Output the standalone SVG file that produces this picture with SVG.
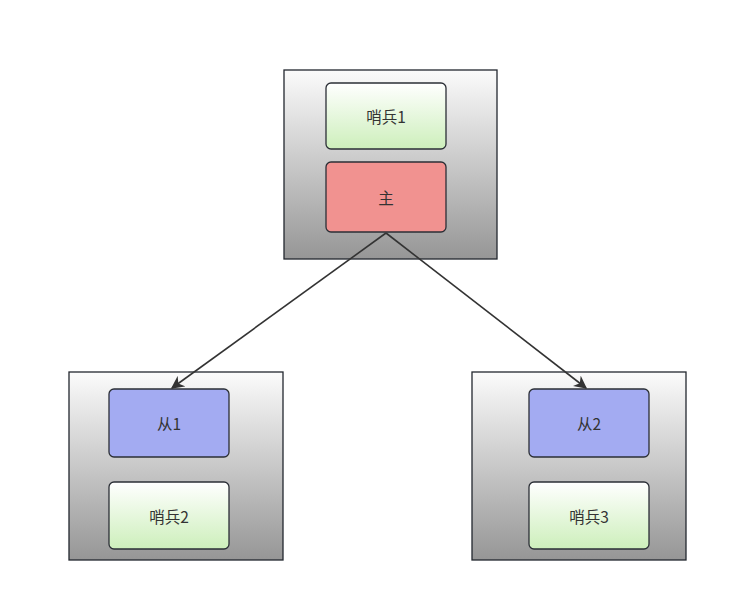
<svg xmlns="http://www.w3.org/2000/svg" width="743" height="609" viewBox="0 0 743 609">
<style>
.box{stroke:#23272e;stroke-width:1.3;fill:url(#gGray)}
.in{stroke:#2b2f36;stroke-width:1.3}
.green{fill:url(#gGreen)}
.red{fill:#f19290}
.blue{fill:#a3abf2}
text{font-family:"Noto Sans CJK SC","Noto Sans",sans-serif;font-size:15.5px;fill:#333;text-anchor:middle;dominant-baseline:central}
.edge{stroke:#333;stroke-width:1.6;fill:none;marker-end:url(#arr)}
</style>
<defs>
<linearGradient id="gGray" x1="0" y1="0" x2="0" y2="1"><stop offset="0" stop-color="#fbfbfb"/><stop offset="1" stop-color="#969696"/></linearGradient>
<linearGradient id="gGreen" x1="0" y1="0" x2="0" y2="1"><stop offset="0" stop-color="#ffffff"/><stop offset="1" stop-color="#cdefbb"/></linearGradient>
<marker id="arr" viewBox="0 0 10 10" refX="9" refY="5" markerWidth="13" markerHeight="13" markerUnits="userSpaceOnUse" orient="auto"><path d="M0,0 L10,5 L0,10 L3,5 Z" fill="#333"/></marker>
</defs>
<rect width="743" height="609" fill="#fff"/>
<g id="host-top"><rect class="box" x="284" y="70" width="213" height="189"/></g>
<g id="host-left"><rect class="box" x="69" y="372" width="214" height="188"/></g>
<g id="host-right"><rect class="box" x="472" y="372" width="214" height="188"/></g>
<g id="sentinel1"><rect class="in green" x="326" y="83" width="120" height="66" rx="5"/><text x="386" y="116">哨兵1</text></g>
<g id="master"><rect class="in red" x="326" y="162" width="120" height="70" rx="5"/><text x="386" y="197">主</text></g>
<g id="slave1"><rect class="in blue" x="109" y="389" width="120" height="68" rx="5"/><text x="169" y="423">从1</text></g>
<g id="sentinel2"><rect class="in green" x="109" y="482" width="120" height="67" rx="5"/><text x="169" y="516">哨兵2</text></g>
<g id="slave2"><rect class="in blue" x="529" y="389" width="120" height="68" rx="5"/><text x="589" y="423">从2</text></g>
<g id="sentinel3"><rect class="in green" x="529" y="482" width="120" height="67" rx="5"/><text x="589" y="516">哨兵3</text></g>
<g id="connectors">
<path class="edge" d="M386,233 L172,388"/>
<path class="edge" d="M386,233 L586,388"/>
</g>
</svg>
